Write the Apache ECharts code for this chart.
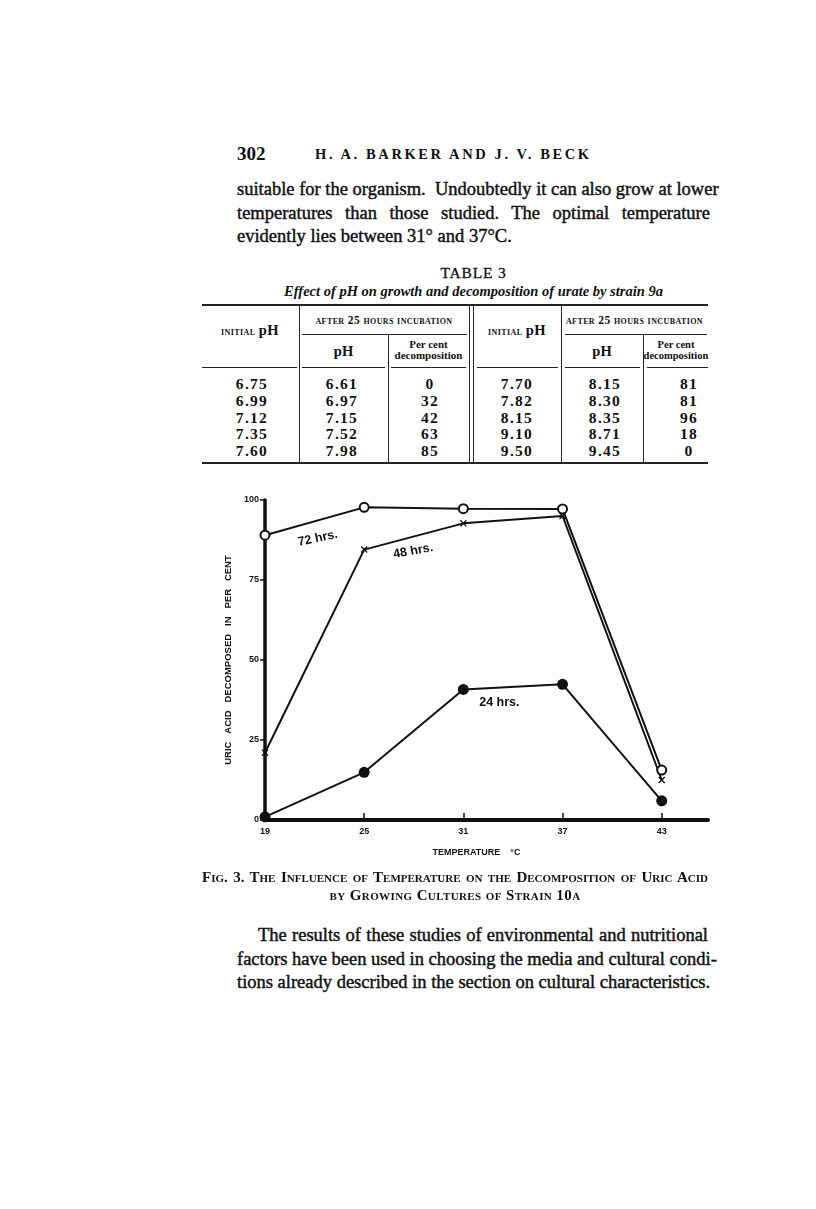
<!DOCTYPE html>
<html>
<head>
<meta charset="utf-8">
<script src="https://cdn.jsdelivr.net/npm/echarts@6/dist/echarts.min.js"></script>
<style>
  html, body { margin:0; padding:0; background:#fff; }
  body { width:816px; height:1209px; position:relative; overflow:hidden; color:#111;
         font-family:"Liberation Serif","DejaVu Serif",serif; }
  .abs { position:absolute; }
  .line { position:absolute; left:237px; width:473px; font-size:18.5px; white-space:nowrap;
          text-align:justify; text-align-last:justify; -webkit-text-stroke:0.45px #111; }
  .last { text-align-last:left; }
  .hr { position:absolute; background:#222; }
  .vr { position:absolute; background:#222; width:1.3px; }
  .num { position:absolute; width:80px; text-align:center; font-size:15.5px; font-weight:bold; letter-spacing:1.3px; }
  .sc { font-variant:small-caps; font-weight:bold; }
  #chart { position:absolute; left:180px; top:480px; width:560px; height:390px; }
</style>
</head>
<body>
<div class="abs" style="left:237px;top:143px;font-size:19px;font-weight:bold;">302</div>
<div class="abs" style="left:315px;top:146px;width:276px;font-size:14.5px;font-weight:bold;letter-spacing:2.6px;white-space:nowrap;">H. A. BARKER AND J. V. BECK</div>

<div class="line" style="top:179px;">suitable for the organism. &nbsp;Undoubtedly it can also grow at lower</div>
<div class="line" style="top:202.5px;">temperatures than those studied. The optimal temperature</div>
<div class="line last" style="top:226px;">evidently lies between 31° and 37°C.</div>

<div class="abs" style="left:237px;width:473px;top:264px;text-align:center;font-size:15.5px;letter-spacing:0.8px;-webkit-text-stroke:0.3px #111;">TABLE 3</div>
<div class="abs" style="left:237px;width:473px;top:283px;text-align:center;font-size:14.5px;font-style:italic;font-weight:bold;white-space:nowrap;">Effect of pH on growth and decomposition of urate by strain 9a</div>

<!-- table rules -->
<div class="hr" style="left:202px;width:506px;top:304px;height:1.6px;"></div>
<div class="hr" style="left:302px;width:165px;top:334px;height:1.2px;"></div>
<div class="hr" style="left:565px;width:142px;top:334px;height:1.2px;"></div>
<div class="hr" style="left:202px;width:95px;top:367px;height:1.3px;"></div>
<div class="hr" style="left:302px;width:83px;top:367px;height:1.3px;"></div>
<div class="hr" style="left:391px;width:75px;top:367px;height:1.3px;"></div>
<div class="hr" style="left:477px;width:81px;top:367px;height:1.3px;"></div>
<div class="hr" style="left:565px;width:75px;top:367px;height:1.3px;"></div>
<div class="hr" style="left:647px;width:61px;top:367px;height:1.3px;"></div>
<div class="hr" style="left:202px;width:506px;top:462px;height:2.2px;"></div>
<div class="vr" style="left:298.5px;top:305px;height:159px;"></div>
<div class="vr" style="left:468.5px;top:305px;height:159px;"></div>
<div class="vr" style="left:472.5px;top:305px;height:159px;"></div>
<div class="vr" style="left:560.5px;top:305px;height:159px;"></div>
<div class="vr" style="left:387.5px;top:335px;height:129px;"></div>
<div class="vr" style="left:642.5px;top:335px;height:129px;"></div>

<div class="abs sc" style="left:202px;width:96px;top:322px;text-align:center;font-size:11.5px;letter-spacing:0.4px;">initial <span style="font-variant:normal;font-size:14.5px;">pH</span></div>
<div class="abs sc" style="left:299px;width:170px;top:314px;text-align:center;font-size:11.5px;white-space:nowrap;letter-spacing:0.4px;">after 25 hours incubation</div>
<div class="abs" style="left:299px;width:89px;top:343px;text-align:center;font-size:14.5px;font-weight:bold;">pH</div>
<div class="abs" style="left:388px;width:81px;top:339px;text-align:center;font-size:11px;font-weight:bold;line-height:11px;">Per cent<br>decomposition</div>
<div class="abs sc" style="left:473px;width:88px;top:322px;text-align:center;font-size:11.5px;letter-spacing:0.4px;">initial <span style="font-variant:normal;font-size:14.5px;">pH</span></div>
<div class="abs sc" style="left:561px;width:147px;top:314px;text-align:center;font-size:11.5px;white-space:nowrap;letter-spacing:0.4px;">after 25 hours incubation</div>
<div class="abs" style="left:561px;width:82px;top:343px;text-align:center;font-size:14.5px;font-weight:bold;">pH</div>
<div class="abs" style="left:643px;width:66px;top:339px;text-align:center;font-size:10.5px;font-weight:bold;line-height:11px;white-space:nowrap;">Per cent<br>decomposition</div>

<div id="tbody"></div>

<div id="chart"></div>

<div class="abs" style="left:202px;width:506px;top:869px;font-size:15px;font-variant:small-caps;font-weight:bold;white-space:nowrap;text-align:justify;text-align-last:justify;">Fig. 3. The Influence of Temperature on the Decomposition of Uric Acid</div>
<div class="abs" style="left:202px;width:506px;top:887px;font-size:15px;font-variant:small-caps;font-weight:bold;white-space:nowrap;text-align:center;letter-spacing:0.4px;">by Growing Cultures of Strain 10a</div>

<div class="line" style="top:925px;left:258px;width:450px;">The results of these studies of environmental and nutritional</div>
<div class="line" style="top:948.5px;">factors have been used in choosing the media and cultural condi-</div>
<div class="line" style="top:972px;">tions already described in the section on cultural characteristics.</div>

<script>
// ---- Table 3 data ----
const initialPH1 = ['6.75','6.99','7.12','7.35','7.60'];
const finalPH1   = ['6.61','6.97','7.15','7.52','7.98'];
const decomp1    = ['0','32','42','63','85'];
const initialPH2 = ['7.70','7.82','8.15','9.10','9.50'];
const finalPH2   = ['8.15','8.30','8.35','8.71','9.45'];
const decomp2    = ['81','81','96','18','0'];

// ---- Fig. 3 data ----
const temperatures = [19, 25, 31, 37, 43];
const hrs72 = [89, 97.7, 97.3, 97.2, 15.6];
const hrs48 = [21, 84.5, 92.7, 95, 12.5];
const hrs24 = [1, 14.9, 40.8, 42.4, 6];
const yTicks = [0, 25, 50, 75, 100];

(function buildTable(){
  const cols = [initialPH1, finalPH1, decomp1, initialPH2, finalPH2, decomp2];
  const centers = [252, 342, 430, 517, 605, 689];
  const rowTops = [374.5, 391.5, 408.5, 425, 441.5];
  const host = document.getElementById('tbody');
  cols.forEach((col, ci) => {
    col.forEach((v, ri) => {
      const d = document.createElement('div');
      d.className = 'num';
      d.style.left = (centers[ci] - 40) + 'px';
      d.style.top = rowTops[ri] + 'px';
      d.textContent = v;
      host.appendChild(d);
    });
  });
})();

const chart = echarts.init(document.getElementById('chart'), null, {renderer:'canvas'});
const curveLabel = (text, offset, rotate) => ({
  show: true, formatter: text, position: 'inside', offset: offset, rotate: rotate,
  color: '#111', fontFamily: 'Liberation Sans, Arial, sans-serif', fontWeight: 'bold', fontSize: 12.5
});
const xMark = 'path://M0,1.4L1.4,0L5,3.6L8.6,0L10,1.4L6.4,5L10,8.6L8.6,10L5,6.4L1.4,10L0,8.6L3.6,5Z';

chart.setOption({
  animation: false,
  grid: { left: 85, top: 20, width: 443, height: 320 },
  xAxis: {
    type: 'value', min: 19, max: 45.8,
    axisLine: { show: true, lineStyle: { color: '#111', width: 4 } },
    splitLine: { show: false },
    axisTick: { show: true, inside: true, length: 7, lineStyle: { color: '#111', width: 1.5 }, customValues: temperatures },
    axisLabel: { customValues: temperatures, margin: 7, color: '#111', fontSize: 9, fontWeight: 'bold',
                 fontFamily: 'Liberation Sans, Arial, sans-serif' },
    name: 'TEMPERATURE    °C', nameLocation: 'middle', nameGap: 28,
    nameTextStyle: { color: '#111', fontSize: 9, fontWeight: 'bold', fontFamily: 'Liberation Sans, Arial, sans-serif',
                     padding: [0, 20, 0, 0] }
  },
  yAxis: {
    type: 'value', min: 0, max: 100, interval: 25,
    axisLine: { show: true, lineStyle: { color: '#111', width: 3.5 } },
    splitLine: { show: false },
    axisTick: { show: true, length: 5, lineStyle: { color: '#111', width: 1.5 } },
    axisLabel: { margin: 6, color: '#111', fontSize: 9, fontWeight: 'bold',
                 fontFamily: 'Liberation Sans, Arial, sans-serif',
                 customValues: yTicks },
    name: 'URIC   ACID   DECOMPOSED   IN   PER   CENT', nameLocation: 'middle', nameGap: 32,
    nameTextStyle: { color: '#111', fontSize: 9.5, fontWeight: 'bold', fontFamily: 'Liberation Sans, Arial, sans-serif' }
  },
  series: [
    {
      name: '72 hrs.', type: 'line',
      data: temperatures.map((t, i) => i === 0
        ? { value: [t, hrs72[i]], label: curveLabel('72 hrs.', [51, 14], 12) }
        : [t, hrs72[i]]),
      symbol: 'emptyCircle', symbolSize: 9,
      itemStyle: { color: '#111', borderColor: '#111', borderWidth: 1.6 },
      lineStyle: { color: '#111', width: 2 }, z: 3
    },
    {
      name: '48 hrs.', type: 'line',
      data: temperatures.map((t, i) => i === 1
        ? { value: [t, hrs48[i]], label: curveLabel('48 hrs.', [48, 10], 10) }
        : [t, hrs48[i]]),
      symbol: xMark, symbolSize: 7,
      itemStyle: { color: '#111' },
      lineStyle: { color: '#111', width: 2 }, z: 2
    },
    {
      name: '24 hrs.', type: 'line',
      data: temperatures.map((t, i) => i === 2
        ? { value: [t, hrs24[i]], label: curveLabel('24 hrs.', [36, 13], 0) }
        : [t, hrs24[i]]),
      symbol: 'circle', symbolSize: 11,
      itemStyle: { color: '#111' },
      lineStyle: { color: '#111', width: 2 }, z: 2
    }
  ]
});
</script>
</body>
</html>
